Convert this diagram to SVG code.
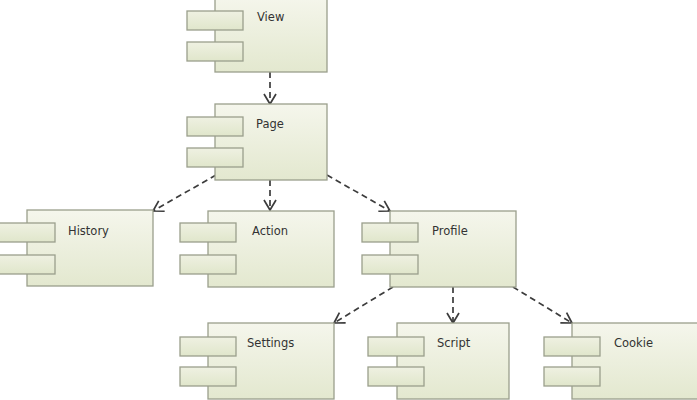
<svg xmlns="http://www.w3.org/2000/svg" width="697" height="400" viewBox="0 0 697 400">
<defs>
<linearGradient id="g" x1="0" y1="0" x2="0" y2="1">
<stop offset="0" stop-color="#f5f6ec"/>
<stop offset="1" stop-color="#e3e8cf"/>
</linearGradient>
<linearGradient id="gs" x1="0" y1="0" x2="0" y2="1">
<stop offset="0" stop-color="#eff1e2"/>
<stop offset="1" stop-color="#e0e6cb"/>
</linearGradient>
<marker id="arr" viewBox="-12 -7 14 14" markerWidth="14" markerHeight="14" refX="0" refY="0" orient="auto" markerUnits="userSpaceOnUse">
<path d="M-10,-6 L0,0 L-10,6" fill="none" stroke="#3c3c3c" stroke-width="1.7"/>
</marker>
</defs>
<style>
.b{fill:url(#g);stroke:#9a9f8c;stroke-width:1.3}
.s{fill:url(#gs);stroke:#9a9f8c;stroke-width:1.3}
.t{font-family:"DejaVu Sans",sans-serif;font-size:11.5px;fill:#333}
.c{fill:none;stroke:#3c3c3c;stroke-width:1.7;stroke-dasharray:6,4;marker-end:url(#arr)}
</style>
<rect width="697" height="400" fill="#fff"/>
<g id="connectors">
<line class="c" x1="270" y1="72" x2="270" y2="104"/>
<line class="c" x1="216" y1="175" x2="153" y2="211"/>
<line class="c" x1="270" y1="180" x2="270" y2="210"/>
<line class="c" x1="327" y1="175" x2="390" y2="211"/>
<line class="c" x1="393" y1="287" x2="334" y2="323"/>
<line class="c" x1="453" y1="287" x2="453" y2="323"/>
<line class="c" x1="513" y1="287" x2="572" y2="323"/>
</g>
<g id="view">
<rect class="b" x="215" y="-4" width="112" height="76"/>
<rect class="s" x="187" y="11" width="56" height="19"/>
<rect class="s" x="187" y="42" width="56" height="19"/>
<text class="t" x="257" y="21">View</text>
</g>
<g id="page">
<rect class="b" x="215" y="104" width="112" height="76"/>
<rect class="s" x="187" y="117" width="56" height="19"/>
<rect class="s" x="187" y="148" width="56" height="19"/>
<text class="t" x="256" y="128">Page</text>
</g>
<g id="history">
<rect class="b" x="27" y="210" width="126" height="76"/>
<rect class="s" x="-1" y="223" width="56" height="19"/>
<rect class="s" x="-1" y="255" width="56" height="19"/>
<text class="t" x="68" y="235">History</text>
</g>
<g id="action">
<rect class="b" x="208" y="211" width="126" height="76"/>
<rect class="s" x="180" y="223" width="56" height="19"/>
<rect class="s" x="180" y="255" width="56" height="19"/>
<text class="t" x="252" y="235">Action</text>
</g>
<g id="profile">
<rect class="b" x="390" y="211" width="126" height="76"/>
<rect class="s" x="362" y="223" width="56" height="19"/>
<rect class="s" x="362" y="255" width="56" height="19"/>
<text class="t" x="432" y="235">Profile</text>
</g>
<g id="settings">
<rect class="b" x="208" y="323" width="126" height="76"/>
<rect class="s" x="180" y="337" width="56" height="19"/>
<rect class="s" x="180" y="367" width="56" height="19"/>
<text class="t" x="247" y="347">Settings</text>
</g>
<g id="script">
<rect class="b" x="397" y="323" width="112" height="76"/>
<rect class="s" x="368" y="337" width="56" height="19"/>
<rect class="s" x="368" y="367" width="56" height="19"/>
<text class="t" x="437" y="347">Script</text>
</g>
<g id="cookie">
<rect class="b" x="572" y="323" width="130" height="76"/>
<rect class="s" x="544" y="337" width="56" height="19"/>
<rect class="s" x="544" y="367" width="56" height="19"/>
<text class="t" x="614" y="347">Cookie</text>
</g>
</svg>
